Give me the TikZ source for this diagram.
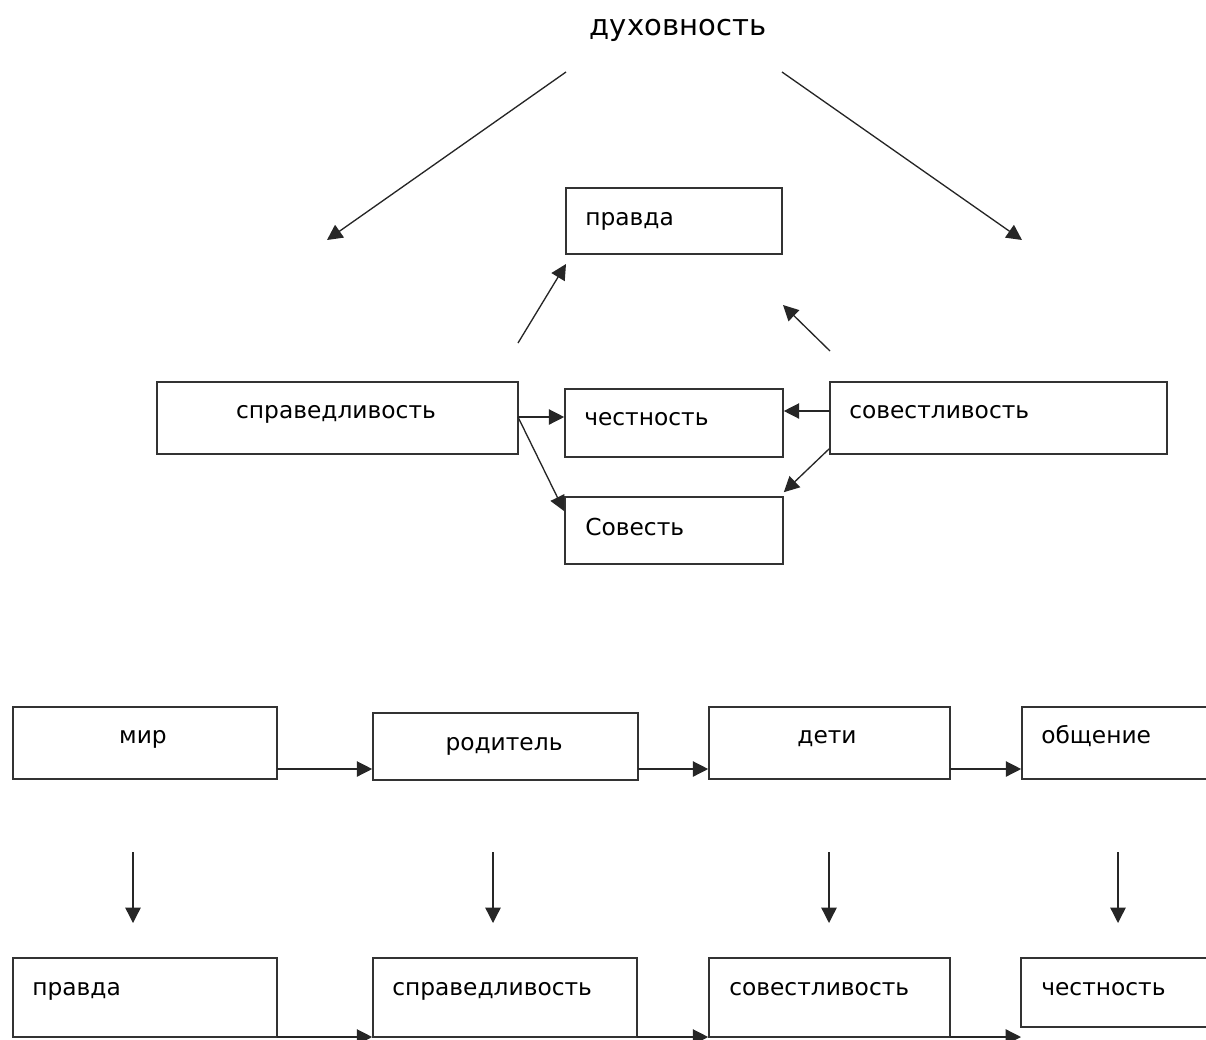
\documentclass[tikz,border=0pt]{standalone}
\usepackage{fontspec}
\setmainfont{DejaVu Sans}
\usetikzlibrary{arrows.meta,fit,calc}
\begin{document}
\begin{tikzpicture}[x=0.75pt,y=-0.75pt,
  box/.style={draw=black!80, line width=1.2pt, inner sep=0pt},
  lbl/.style={inner sep=0pt, anchor=base west, font=\fontsize{17.5}{21}\selectfont},
  clbl/.style={inner sep=0pt, anchor=base, font=\fontsize{17.5}{21}\selectfont},
  ttl/.style={inner sep=0pt, anchor=base, font=\fontsize{21.8}{26}\selectfont},
  arr/.style={draw=black!85, line width=1pt, -{Triangle[length=11.5pt,width=11.5pt]}}]
\useasboundingbox (0,0) rectangle (1206,1039);
\clip (0,0) rectangle (1206,1039);
% title
\node[ttl] (title) at (678,35) {духовность};
% top diagram boxes
\node[box, fit={(566,188)(782,254)}] (pravda) {};
\node[lbl] (tpravda) at (585,225) {правда};
\node[box, fit={(157,382)(518,454)}] (spr) {};
\node[clbl] (tspr) at (336,418) {справедливость};
\node[box, fit={(565,389)(783,457)}] (chest) {};
\node[lbl] (tchest) at (584,425) {честность};
\node[box, fit={(830,382)(1167,454)}] (sovl) {};
\node[lbl] (tsovl) at (849,418) {совестливость};
\node[box, fit={(565,497)(783,564)}] (sovest) {};
\node[lbl] (tsovest) at (585,535) {Совесть};
% top diagram connectors
\coordinate (tl0) at (566,72);
\coordinate (tl1) at (327,240);
\coordinate (tr0) at (782,72);
\coordinate (tr1) at (1022,240);
\coordinate (sl0) at (518,343);
\coordinate (sl1) at (566,264);
\coordinate (sr0) at (830,351);
\coordinate (sr1) at (783,305);
\draw[arr] (tl0) -- (tl1);
\draw[arr] (tr0) -- (tr1);
\draw[arr] (sl0) -- (sl1);
\draw[arr] (sr0) -- (sr1);
\coordinate (sprout) at (518,417);
\draw[arr] (sprout) -- (sprout -| chest.west);
\draw[arr] (sprout) -- ($(sovest.north west)+(0,15)$);
\coordinate (sovout1) at (830,411);
\draw[arr] (sovout1) -- (sovout1 -| chest.east);
\draw[arr] ($(sovl.south west)+(0,-6)$) -- ($(sovest.north east)+(0,-4)$);
% lower row 1
\node[box, fit={(13,707)(277,779)}] (mir) {};
\node[clbl] (tmir) at (143,743) {мир};
\node[box, fit={(373,713)(638,780)}] (rod) {};
\node[clbl] (trod) at (504,750) {родитель};
\node[box, fit={(709,707)(950,779)}] (deti) {};
\node[clbl] (tdeti) at (827,743) {дети};
\node[box, fit={(1022,707)(1240,779)}] (obsh) {};
\node[lbl] (tobsh) at (1041,743) {общение};
\coordinate (m1) at (277,769);
\coordinate (m2) at (638,769);
\coordinate (m3) at (950,769);
\draw[arr] (m1) -- (m1 -| rod.west);
\draw[arr] (m2) -- (m2 -| deti.west);
\draw[arr] (m3) -- (m3 -| obsh.west);
% vertical arrows
\foreach \x/\n in {133/1,493/2,829/3,1118/4}{
  \coordinate (va\n) at (\x,852);
  \coordinate (vb\n) at (\x,923);
  \draw[arr] (va\n) -- (vb\n);
}
% lower row 2
\node[box, fit={(13,958)(277,1037)}] (bpr) {};
\node[lbl] (tbpr) at (32,995) {правда};
\node[box, fit={(373,958)(637,1037)}] (bspr) {};
\node[lbl] (tbspr) at (392,995) {справедливость};
\node[box, fit={(709,958)(950,1037)}] (bsov) {};
\node[lbl] (tbsov) at (729,995) {совестливость};
\node[box, fit={(1021,958)(1240,1027)}] (bchest) {};
\node[lbl] (tbchest) at (1041,995) {честность};
\coordinate (n1) at (277,1037);
\coordinate (n2) at (637,1037);
\coordinate (n3) at (950,1037);
\coordinate (n4) at (1021,1037);
\draw[arr] (n1) -- (n1 -| bspr.west);
\draw[arr] (n2) -- (n2 -| bsov.west);
\draw[arr] (n3) -- (n4);
\end{tikzpicture}
\end{document}
